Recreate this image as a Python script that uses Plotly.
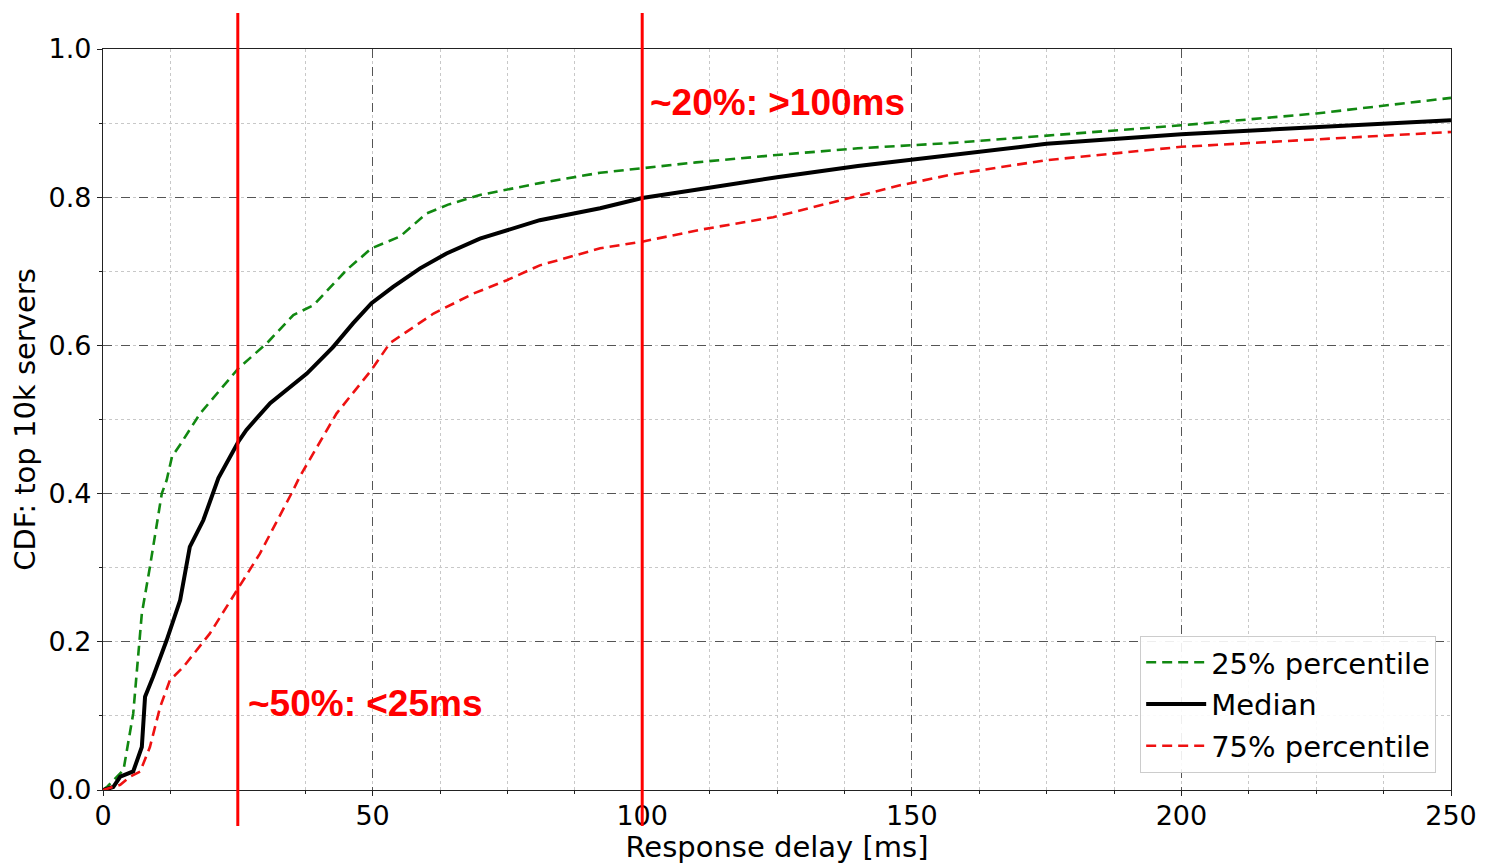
import plotly.graph_objects as go

# ---- data ----
p25_x = [0, 0.7, 3.8, 5.6, 7.2, 8.7, 10.9, 11.8, 12.8, 14.3, 18.0, 25.1, 30.4, 35.3, 39.0, 45.2, 49.8, 55.1, 60.0, 64.0, 69.9, 81.0, 92.2, 100.0, 110.0, 125.0, 140.0, 157.0, 175.0, 200.0, 225.0, 250.0]
p25_y = [0.0, 0.004, 0.027, 0.103, 0.238, 0.301, 0.400, 0.418, 0.45, 0.466, 0.508, 0.569, 0.603, 0.641, 0.654, 0.702, 0.731, 0.747, 0.778, 0.79, 0.803, 0.819, 0.833, 0.839, 0.847, 0.857, 0.866, 0.873, 0.883, 0.897, 0.913, 0.934]

med_x = [0, 1.9, 3.2, 5.6, 7.2, 7.8, 9.3, 11.8, 14.3, 16.1, 18.6, 21.4, 25.1, 26.6, 31.0, 37.8, 42.7, 46.4, 49.8, 53.8, 58.8, 63.7, 69.9, 76.1, 81.0, 92.2, 100.0, 110.0, 125.0, 140.0, 157.0, 175.0, 200.0, 225.0, 250.0]
med_y = [0.0, 0.004, 0.018, 0.025, 0.058, 0.126, 0.153, 0.202, 0.256, 0.328, 0.364, 0.421, 0.470, 0.486, 0.522, 0.562, 0.598, 0.630, 0.657, 0.679, 0.704, 0.724, 0.744, 0.758, 0.769, 0.785, 0.799, 0.81, 0.827, 0.842, 0.857, 0.872, 0.885, 0.895, 0.904]

p75_x = [0, 3.2, 5.0, 6.9, 8.7, 10.6, 12.4, 14.9, 19.8, 24.8, 29.1, 35.3, 36.5, 43.3, 49.8, 53.2, 61.3, 68.7, 74.9, 81.0, 92.2, 100.0, 110.7, 124.3, 136.7, 147.8, 157.0, 175.0, 200.0, 225.0, 250.0]
p75_y = [0.0, 0.007, 0.018, 0.025, 0.058, 0.112, 0.148, 0.166, 0.211, 0.27, 0.319, 0.405, 0.423, 0.508, 0.567, 0.603, 0.643, 0.670, 0.688, 0.708, 0.731, 0.74, 0.756, 0.773, 0.796, 0.816, 0.83, 0.85, 0.868, 0.878, 0.888]

marker_lines = [25, 100]
annotations_text = ["~50%: <25ms", "~20%: >100ms"]

TICK_FONT = dict(family="DejaVu Sans", size=27, color="black")
LABEL_FONT = dict(family="DejaVu Sans", size=29, color="black")

fig = go.Figure()
fig.add_trace(go.Scatter(x=p25_x, y=p25_y, mode="lines", name="25% percentile", legendgroup="a",
                         line=dict(color="#118811", width=2.6, dash="10px,6px")))
fig.add_trace(go.Scatter(x=med_x, y=med_y, mode="lines", name="Median", legendgroup="b",
                         line=dict(color="black", width=4)))
fig.add_trace(go.Scatter(x=p75_x, y=p75_y, mode="lines", name="75% percentile", legendgroup="c",
                         line=dict(color="#ee1111", width=2.6, dash="10px,6px")))

for xv in marker_lines:
    fig.add_shape(type="line", xref="x", yref="paper", x0=xv, x1=xv, y0=-0.0486, y1=1.0486,
                  line=dict(color="#ff0000", width=3), layer="above")

fig.add_annotation(x=26.6, y=0.117, xref="x", yref="paper", text="<b>" + annotations_text[0] + "</b>",
                   showarrow=False, xanchor="left", yanchor="middle",
                   font=dict(family="Liberation Sans, Arial", size=37, color="#ff0000"))
fig.add_annotation(x=101.1, y=0.928, xref="x", yref="paper", text="<b>" + annotations_text[1] + "</b>",
                   showarrow=False, xanchor="left", yanchor="middle",
                   font=dict(family="Liberation Sans, Arial", size=37, color="#ff0000"))

# page body has an 8px margin, so the figure is sized/offset to land the plot box where the reference has it
fig.update_layout(
    width=1477, height=856,
    margin=dict(l=95, r=34, t=41, b=74, autoexpand=False),
    paper_bgcolor="white", plot_bgcolor="white",
    font=TICK_FONT,
    showlegend=True,
    legend=dict(x=0.989, y=0.023, xanchor="right", yanchor="bottom",
                bgcolor="rgba(255,255,255,0.9)", bordercolor="#cccccc", borderwidth=1,
                font=LABEL_FONT,
                itemwidth=60, tracegroupgap=1),
)
fig.update_xaxes(
    range=[0, 250], tickvals=[0, 50, 100, 150, 200, 250], automargin=False,
    showline=True, linecolor="#222222", linewidth=1.2, mirror=True,
    ticks="outside", ticklen=5, tickcolor="#222222", ticklabelstandoff=-4,
    showgrid=True, gridcolor="#555555", griddash="dash", gridwidth=1,
    zeroline=False, tickfont=TICK_FONT,
    title=dict(text="Response delay [ms]", font=LABEL_FONT, standoff=4),
    minor=dict(dtick=12.5, tick0=0, showgrid=True, gridcolor="#c8c8c8", griddash="dot",
               ticks="outside", ticklen=3, tickcolor="#222222"),
)
fig.update_yaxes(
    range=[0, 1], tickvals=[0, 0.2, 0.4, 0.6, 0.8, 1.0], tickformat=".1f", automargin=False,
    showline=True, linecolor="#222222", linewidth=1.2, mirror=True,
    ticks="outside", ticklen=5, tickcolor="#222222",
    showgrid=True, gridcolor="#555555", griddash="dash", gridwidth=1,
    zeroline=False, tickfont=TICK_FONT,
    title=dict(text="CDF: top 10k servers", font=LABEL_FONT, standoff=6),
    minor=dict(dtick=0.1, tick0=0, showgrid=True, gridcolor="#c8c8c8", griddash="dot",
               ticks="outside", ticklen=3, tickcolor="#222222"),
)

fig.write_html("out.html")
